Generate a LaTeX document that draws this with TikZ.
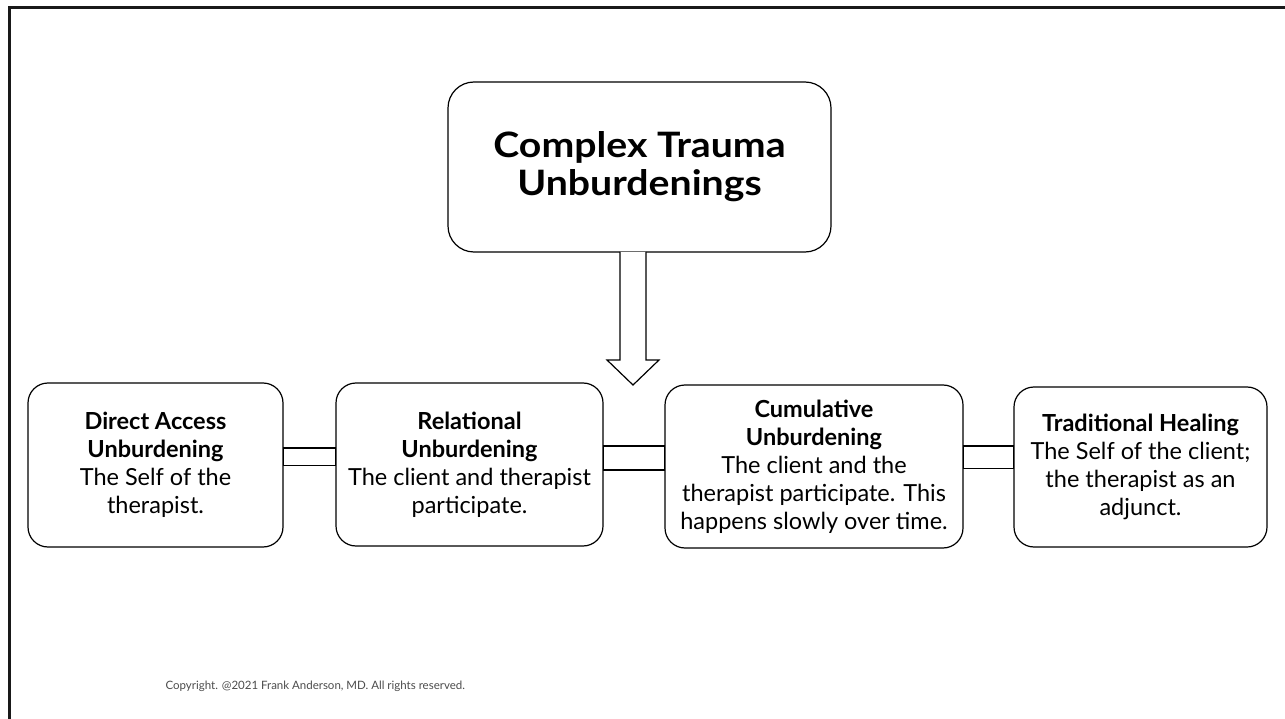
\documentclass[tikz,border=0pt]{standalone}
\usepackage{fontspec}
\setmainfont{Lato}
\newfontfamily\titlefont[FakeStretch=1.12]{Lato}
\begin{document}
\begin{tikzpicture}[x=1pt,y=-1pt,
  box/.style={draw=black, line width=1.2pt, rounded corners=20pt, fill=white, align=center, inner sep=0pt,
    font=\fontsize{23.5}{28}\selectfont},
  linkbar/.style={draw=black, line width=1.2pt, fill=white}]
\useasboundingbox (0,0) rectangle (1285,719);
\draw[line width=3pt, color=black!90] (9.5,719) -- (9.5,7.5) -- (1285,7.5);
% top box
\node[box, rounded corners=26pt, minimum width=383pt, minimum height=170pt,
  font=\titlefont\fontsize{35}{38}\selectfont\bfseries] (top) at (639.5,167) {Complex Trauma\\Unburdenings};
% lower boxes
\node[box, minimum width=255pt, minimum height=164pt] (b1) at (155.5,465)
  {\textbf{Direct Access}\\\textbf{Unburdening}\\The Self of the\\therapist.};
\node[box, minimum width=267pt, minimum height=163pt] (b2) at (469.5,464.5)
  {\textbf{Relational}\\\textbf{Unburdening}\\The client and therapist\\participate.};
\node[box, minimum width=298pt, minimum height=163pt] (b3) at (814,466.5)
  {\textbf{Cumulative}\\\textbf{Unburdening}\\The client and the\\therapist participate. This\\happens slowly over time.};
\node[box, minimum width=253pt, minimum height=160pt] (b4) at (1140.5,467)
  {\textbf{Traditional Healing}\\The Self of the client;\\the therapist as an\\adjunct.};
% connector bars
\draw[linkbar] ([yshift=17pt]b1.east) rectangle ([yshift=-1pt]b2.west);
\draw[linkbar] ([yshift=18.5pt]b2.east) rectangle ([yshift=-3.5pt]b3.west);
\draw[linkbar] ([yshift=20.5pt]b3.east) rectangle ([yshift=-1.5pt]b4.west);
% block arrow
\coordinate (tip) at (633,385);
\draw[line width=1.2pt, fill=white, line join=miter]
  (620,252) -- (620,360) -- (607,360) -- (tip) -- (659,360) -- (646,360) -- (646,252);
% copyright
\node[font=\fontsize{11.5}{13}\selectfont, text=black!70, anchor=west] (copy) at (162,686)
  {Copyright. @2021 Frank Anderson, MD. All rights reserved.};
\end{tikzpicture}
\end{document}
